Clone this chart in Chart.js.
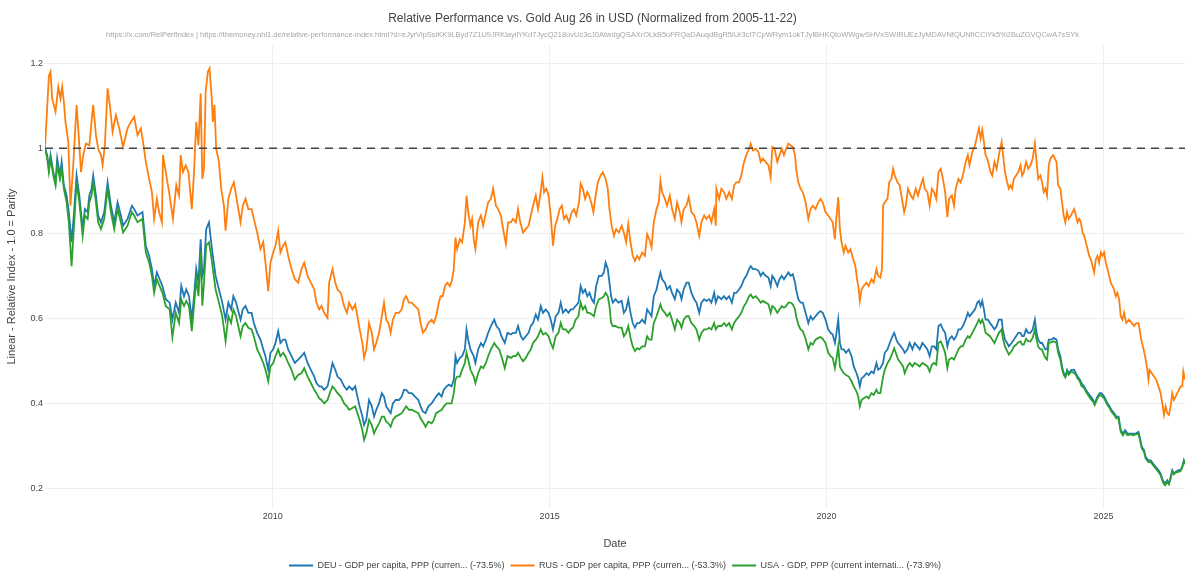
<!DOCTYPE html>
<html>
<head>
<meta charset="utf-8">
<title>Relative Performance vs. Gold</title>
<script src="https://cdn.jsdelivr.net/npm/chart.js@4.4.1/dist/chart.umd.min.js"></script>
<style>
    body { margin: 0; background: #fff; }
    #wrap { width: 1200px; height: 585px; }
</style>
</head>
<body>
<div id="wrap"><canvas id="myChart"></canvas></div>
<script>
// [decimal year, index value]
const deuSeries = [
    [2005.89,1.000],[2005.93,0.984],[2005.96,0.952],[2005.99,0.984],[2006.04,0.944],[2006.08,0.920],[2006.11,0.976],[2006.16,0.936],[2006.19,0.968],[2006.23,0.913],[2006.28,0.889],[2006.32,0.850],[2006.37,0.779],[2006.41,0.842],[2006.46,0.936],[2006.51,0.889],[2006.54,0.850],[2006.57,0.810],[2006.61,0.857],[2006.66,0.850],[2006.69,0.889],[2006.73,0.905],[2006.76,0.936],[2006.81,0.889],[2006.85,0.842],[2006.90,0.826],[2006.96,0.850],[2007.02,0.920],[2007.08,0.865],[2007.14,0.826],[2007.20,0.873],[2007.26,0.842],[2007.30,0.818],[2007.38,0.834],[2007.46,0.865],[2007.50,0.857],[2007.56,0.842],[2007.65,0.850],[2007.71,0.771],[2007.77,0.747],[2007.82,0.716],[2007.86,0.676],[2007.91,0.708],[2007.96,0.692],[2008.01,0.676],[2008.07,0.645],[2008.14,0.637],[2008.19,0.597],[2008.25,0.637],[2008.31,0.613],[2008.35,0.676],[2008.40,0.652],[2008.44,0.668],[2008.49,0.652],[2008.54,0.597],[2008.58,0.652],[2008.62,0.716],[2008.66,0.684],[2008.70,0.786],[2008.73,0.700],[2008.76,0.716],[2008.80,0.810],[2008.85,0.826],[2008.89,0.779],[2008.92,0.747],[2008.97,0.700],[2009.03,0.668],[2009.09,0.637],[2009.15,0.597],[2009.20,0.637],[2009.25,0.621],[2009.29,0.652],[2009.34,0.637],[2009.42,0.597],
    [2009.46,0.621],[2009.51,0.629],[2009.56,0.613],[2009.62,0.613],[2009.66,0.589],[2009.72,0.566],[2009.78,0.550],[2009.83,0.527],[2009.87,0.511],[2009.92,0.479],[2009.96,0.519],[2010.01,0.527],[2010.05,0.542],[2010.10,0.570],[2010.14,0.542],[2010.19,0.550],[2010.23,0.550],[2010.28,0.527],[2010.34,0.511],[2010.40,0.495],[2010.46,0.503],[2010.52,0.511],[2010.57,0.519],[2010.63,0.495],[2010.69,0.479],[2010.75,0.463],[2010.79,0.448],[2010.84,0.440],[2010.88,0.440],[2010.93,0.432],[2010.99,0.440],[2011.03,0.463],[2011.08,0.495],[2011.13,0.479],[2011.17,0.463],[2011.23,0.456],[2011.29,0.440],[2011.34,0.432],[2011.38,0.440],[2011.44,0.432],[2011.49,0.440],[2011.53,0.416],[2011.57,0.393],[2011.62,0.369],[2011.65,0.349],[2011.69,0.361],[2011.74,0.408],[2011.79,0.393],[2011.83,0.369],[2011.87,0.385],[2011.92,0.400],[2011.97,0.424],[2012.01,0.416],[2012.05,0.393],[2012.09,0.385],[2012.13,0.377],[2012.17,0.400],[2012.22,0.408],[2012.28,0.408],[2012.33,0.416],[2012.37,0.432],[2012.41,0.432],[2012.46,0.424],[2012.51,0.424],[2012.57,0.416],[2012.63,0.408],[2012.67,0.393],[2012.71,0.381],[2012.76,0.377],[2012.81,0.393],
    [2012.87,0.400],[2012.91,0.408],[2012.95,0.416],[2013.00,0.424],[2013.05,0.416],[2013.09,0.432],[2013.14,0.440],[2013.18,0.444],[2013.23,0.440],[2013.27,0.456],[2013.30,0.511],[2013.33,0.495],[2013.38,0.507],[2013.42,0.511],[2013.47,0.527],[2013.50,0.574],[2013.53,0.550],[2013.57,0.527],[2013.63,0.511],[2013.66,0.495],[2013.71,0.527],[2013.76,0.542],[2013.80,0.534],[2013.85,0.550],[2013.89,0.566],[2013.94,0.582],[2014.00,0.597],[2014.04,0.582],[2014.09,0.574],[2014.13,0.558],[2014.19,0.542],[2014.24,0.566],[2014.30,0.562],[2014.34,0.566],[2014.39,0.566],[2014.43,0.582],[2014.48,0.558],[2014.52,0.550],[2014.57,0.558],[2014.62,0.566],[2014.66,0.582],[2014.70,0.589],[2014.75,0.609],[2014.79,0.597],[2014.84,0.629],[2014.88,0.613],[2014.93,0.621],[2014.98,0.613],[2015.02,0.597],[2015.06,0.574],[2015.11,0.605],[2015.16,0.613],[2015.20,0.637],[2015.24,0.613],[2015.29,0.621],[2015.34,0.613],[2015.38,0.621],[2015.42,0.621],[2015.47,0.629],[2015.52,0.637],[2015.56,0.676],[2015.60,0.660],[2015.64,0.668],[2015.68,0.652],[2015.72,0.660],[2015.76,0.645],[2015.80,0.637],[2015.84,0.676],[2015.89,0.700],[2015.94,0.700],[2015.98,0.708],[2016.01,0.731],[2016.05,0.716],[2016.08,0.684],[2016.11,0.652],[2016.14,0.637],[2016.19,0.645],[2016.24,0.637],
    [2016.30,0.641],[2016.34,0.613],[2016.38,0.621],[2016.42,0.645],[2016.46,0.613],[2016.50,0.589],[2016.54,0.578],[2016.58,0.589],[2016.62,0.589],[2016.67,0.597],[2016.72,0.589],[2016.76,0.621],[2016.80,0.613],[2016.84,0.605],[2016.88,0.652],[2016.93,0.668],[2016.97,0.692],[2017.00,0.708],[2017.03,0.692],[2017.08,0.684],[2017.12,0.668],[2017.17,0.676],[2017.21,0.660],[2017.26,0.645],[2017.30,0.668],[2017.35,0.660],[2017.38,0.645],[2017.42,0.668],[2017.47,0.684],[2017.51,0.684],[2017.56,0.660],[2017.61,0.645],[2017.65,0.637],[2017.70,0.613],[2017.74,0.637],[2017.79,0.645],[2017.83,0.641],[2017.88,0.645],[2017.92,0.637],[2017.97,0.660],[2018.00,0.637],[2018.04,0.652],[2018.10,0.645],[2018.15,0.652],[2018.19,0.645],[2018.24,0.652],[2018.29,0.637],[2018.33,0.660],[2018.37,0.660],[2018.42,0.668],[2018.46,0.676],[2018.51,0.692],[2018.55,0.700],[2018.60,0.716],[2018.63,0.723],[2018.67,0.716],[2018.72,0.716],[2018.77,0.712],[2018.81,0.700],[2018.85,0.708],[2018.90,0.700],[2018.95,0.696],[2018.99,0.676],[2019.02,0.700],[2019.06,0.692],[2019.11,0.676],[2019.15,0.692],[2019.19,0.700],[2019.23,0.692],[2019.27,0.700],[2019.31,0.708],[2019.35,0.700],[2019.39,0.704],[2019.43,0.684],[2019.45,0.668],[2019.49,0.645],[2019.53,0.637],[2019.57,0.637],[2019.62,0.613],[2019.67,0.589],
    [2019.71,0.605],[2019.75,0.597],[2019.80,0.605],[2019.85,0.613],[2019.89,0.617],[2019.93,0.613],[2019.98,0.597],[2020.03,0.574],[2020.07,0.566],[2020.11,0.562],[2020.15,0.542],[2020.17,0.558],[2020.21,0.597],[2020.24,0.542],[2020.27,0.527],[2020.31,0.527],[2020.35,0.519],[2020.40,0.527],[2020.45,0.511],[2020.49,0.487],[2020.54,0.471],[2020.57,0.459],[2020.60,0.440],[2020.63,0.459],[2020.67,0.463],[2020.72,0.471],[2020.76,0.467],[2020.81,0.475],[2020.85,0.471],[2020.90,0.495],[2020.93,0.479],[2020.97,0.483],[2021.02,0.495],[2021.05,0.519],[2021.10,0.527],[2021.14,0.542],[2021.19,0.558],[2021.22,0.566],[2021.26,0.550],[2021.29,0.542],[2021.34,0.534],[2021.38,0.527],[2021.41,0.519],[2021.46,0.527],[2021.50,0.542],[2021.55,0.527],[2021.59,0.542],[2021.64,0.534],[2021.68,0.527],[2021.73,0.542],[2021.78,0.534],[2021.82,0.527],[2021.86,0.511],[2021.90,0.534],[2021.94,0.534],[2021.98,0.527],[2022.02,0.582],[2022.06,0.586],[2022.10,0.574],[2022.14,0.566],[2022.18,0.534],[2022.21,0.550],[2022.26,0.558],[2022.30,0.550],[2022.34,0.558],[2022.38,0.574],[2022.42,0.574],[2022.46,0.582],[2022.51,0.597],[2022.55,0.613],[2022.58,0.605],[2022.63,0.613],[2022.68,0.621],[2022.72,0.637],[2022.75,0.641],[2022.78,0.629],[2022.81,0.641],[2022.84,0.621],[2022.87,0.597],[2022.91,0.597],[2022.95,0.589],[2022.99,0.582],[2023.03,0.574],[2023.07,0.582],[2023.11,0.597],
    [2023.16,0.597],[2023.18,0.574],[2023.22,0.550],[2023.26,0.542],[2023.29,0.534],[2023.34,0.542],[2023.38,0.550],[2023.42,0.558],[2023.46,0.566],[2023.50,0.566],[2023.53,0.558],[2023.56,0.558],[2023.60,0.574],[2023.64,0.566],[2023.68,0.566],[2023.72,0.574],[2023.76,0.597],[2023.79,0.566],[2023.82,0.550],[2023.86,0.542],[2023.89,0.542],[2023.92,0.534],[2023.95,0.527],[2023.98,0.527],[2024.01,0.550],[2024.06,0.550],[2024.10,0.554],[2024.15,0.550],[2024.18,0.527],[2024.22,0.511],[2024.25,0.487],[2024.28,0.471],[2024.31,0.463],[2024.34,0.479],[2024.37,0.471],[2024.42,0.479],[2024.47,0.479],[2024.50,0.471],[2024.53,0.463],[2024.57,0.456],[2024.60,0.448],[2024.65,0.440],[2024.68,0.432],[2024.72,0.424],[2024.77,0.416],[2024.81,0.408],[2024.84,0.400],[2024.89,0.416],[2024.93,0.424],[2024.96,0.424],[2025.01,0.416],[2025.04,0.408],[2025.07,0.400],[2025.11,0.393],[2025.14,0.385],[2025.19,0.377],[2025.23,0.369],[2025.27,0.369],[2025.31,0.337],[2025.35,0.329],[2025.39,0.337],[2025.43,0.329],[2025.49,0.329],[2025.53,0.329],[2025.58,0.329],[2025.63,0.333],[2025.65,0.322],[2025.69,0.298],[2025.73,0.290],[2025.76,0.274],[2025.81,0.266],[2025.85,0.266],[2025.89,0.259],[2025.94,0.251],[2025.99,0.243],[2026.03,0.235],[2026.07,0.219],[2026.11,0.211],[2026.15,0.219],[2026.18,0.211],[2026.21,0.227],[2026.24,0.243],[2026.27,0.235],[2026.30,0.239],[2026.35,0.243],[2026.39,0.243],[2026.42,0.251],[2026.45,0.266],[2026.47,0.259]
];

const rusSeries = [
    [2005.89,1.000],[2005.96,1.170],[2005.99,1.180],[2006.02,1.117],[2006.08,1.086],[2006.13,1.145],[2006.17,1.117],[2006.20,1.145],[2006.23,1.110],[2006.26,1.062],[2006.31,1.015],[2006.35,0.865],[2006.40,0.960],[2006.46,1.102],[2006.49,1.047],[2006.54,0.944],[2006.58,0.984],[2006.63,1.011],[2006.69,1.007],[2006.73,1.062],[2006.76,1.102],[2006.81,1.031],[2006.85,0.999],[2006.90,0.984],[2006.93,0.960],[2006.97,1.007],[2007.02,1.141],[2007.06,1.102],[2007.11,1.039],[2007.17,1.078],[2007.23,1.047],[2007.30,1.003],[2007.38,1.047],[2007.44,1.062],[2007.50,1.074],[2007.56,1.031],[2007.62,1.047],[2007.66,1.015],[2007.71,0.968],[2007.77,0.928],[2007.82,0.897],[2007.86,0.834],[2007.91,0.881],[2007.95,0.850],[2008.00,0.826],[2008.02,0.984],[2008.07,0.944],[2008.13,0.897],[2008.20,0.834],[2008.26,0.913],[2008.31,0.889],[2008.34,0.984],[2008.38,0.944],[2008.43,0.960],[2008.48,0.944],[2008.54,0.857],[2008.58,0.944],[2008.62,1.062],[2008.66,1.007],[2008.70,1.129],[2008.73,0.928],[2008.76,0.952],[2008.79,1.133],[2008.83,1.180],[2008.86,1.188],[2008.90,1.117],[2008.92,1.062],[2008.95,1.102],[2008.98,0.999],[2009.03,0.968],[2009.07,0.905],[2009.12,0.865],[2009.15,0.806],[2009.20,0.881],[2009.25,0.905],[2009.30,0.920],[2009.36,0.873],[2009.42,0.826],
    [2009.46,0.865],[2009.51,0.881],[2009.56,0.857],[2009.62,0.857],[2009.66,0.834],[2009.72,0.802],[2009.78,0.763],[2009.83,0.779],[2009.87,0.731],[2009.92,0.664],[2009.96,0.731],[2010.01,0.755],[2010.05,0.771],[2010.10,0.806],[2010.14,0.755],[2010.19,0.771],[2010.23,0.779],[2010.28,0.747],[2010.34,0.716],[2010.40,0.692],[2010.46,0.684],[2010.52,0.716],[2010.57,0.731],[2010.63,0.700],[2010.69,0.684],[2010.75,0.668],[2010.79,0.637],[2010.84,0.621],[2010.88,0.629],[2010.93,0.613],[2010.99,0.601],[2011.02,0.684],[2011.08,0.716],[2011.13,0.684],[2011.17,0.668],[2011.23,0.660],[2011.29,0.629],[2011.34,0.613],[2011.38,0.637],[2011.44,0.621],[2011.49,0.633],[2011.53,0.605],[2011.57,0.574],[2011.62,0.542],[2011.65,0.507],[2011.69,0.527],[2011.74,0.589],[2011.79,0.566],[2011.83,0.527],[2011.87,0.542],[2011.92,0.566],[2011.97,0.605],[2012.01,0.637],[2012.05,0.597],[2012.09,0.589],[2012.13,0.566],[2012.17,0.597],[2012.22,0.613],[2012.28,0.613],[2012.33,0.621],[2012.37,0.645],[2012.41,0.652],[2012.46,0.637],[2012.51,0.637],[2012.57,0.629],[2012.63,0.621],[2012.67,0.589],[2012.71,0.566],[2012.76,0.574],[2012.81,0.589],
    [2012.87,0.597],[2012.91,0.589],[2012.95,0.605],[2013.00,0.637],[2013.03,0.652],[2013.07,0.652],[2013.11,0.676],[2013.15,0.684],[2013.20,0.676],[2013.24,0.692],[2013.27,0.716],[2013.30,0.790],[2013.33,0.763],[2013.38,0.786],[2013.42,0.779],[2013.47,0.826],[2013.50,0.889],[2013.53,0.850],[2013.57,0.818],[2013.60,0.834],[2013.63,0.786],[2013.66,0.763],[2013.71,0.826],[2013.76,0.842],[2013.80,0.818],[2013.85,0.850],[2013.89,0.873],[2013.94,0.881],[2013.98,0.905],[2014.03,0.865],[2014.07,0.857],[2014.12,0.842],[2014.16,0.810],[2014.21,0.775],[2014.25,0.826],[2014.30,0.826],[2014.34,0.834],[2014.39,0.826],[2014.43,0.857],[2014.47,0.826],[2014.52,0.802],[2014.57,0.810],[2014.62,0.818],[2014.66,0.842],[2014.70,0.865],[2014.75,0.889],[2014.79,0.857],[2014.83,0.889],[2014.87,0.932],[2014.90,0.897],[2014.94,0.905],[2014.98,0.889],[2015.02,0.842],[2015.06,0.771],[2015.10,0.818],[2015.14,0.834],[2015.18,0.857],[2015.22,0.865],[2015.26,0.834],[2015.30,0.842],[2015.35,0.826],[2015.40,0.850],[2015.44,0.857],[2015.48,0.842],[2015.53,0.873],[2015.56,0.917],[2015.60,0.905],[2015.64,0.881],[2015.68,0.897],[2015.71,0.889],[2015.75,0.873],[2015.79,0.850],[2015.83,0.889],[2015.87,0.920],[2015.92,0.936],[2015.96,0.944],[2016.01,0.928],[2016.05,0.905],[2016.08,0.857],[2016.12,0.818],[2016.16,0.794],[2016.20,0.810],[2016.25,0.802],
    [2016.30,0.818],[2016.34,0.802],[2016.38,0.779],[2016.42,0.822],[2016.46,0.779],[2016.50,0.747],[2016.54,0.735],[2016.58,0.747],[2016.62,0.739],[2016.67,0.755],[2016.72,0.747],[2016.76,0.798],[2016.80,0.786],[2016.84,0.767],[2016.88,0.826],[2016.93,0.857],[2016.97,0.873],[2017.00,0.924],[2017.03,0.897],[2017.08,0.881],[2017.12,0.865],[2017.17,0.889],[2017.21,0.857],[2017.26,0.834],[2017.30,0.873],[2017.35,0.850],[2017.38,0.826],[2017.42,0.857],[2017.47,0.865],[2017.51,0.885],[2017.56,0.850],[2017.61,0.842],[2017.65,0.826],[2017.70,0.794],[2017.74,0.826],[2017.79,0.842],[2017.83,0.834],[2017.88,0.842],[2017.92,0.826],[2017.97,0.857],[2018.00,0.818],[2018.01,0.905],[2018.06,0.881],[2018.10,0.905],[2018.15,0.897],[2018.19,0.881],[2018.24,0.897],[2018.29,0.881],[2018.33,0.913],[2018.37,0.920],[2018.42,0.920],[2018.46,0.936],[2018.51,0.968],[2018.55,0.984],[2018.60,0.999],[2018.63,1.011],[2018.67,0.995],[2018.72,0.999],[2018.77,0.991],[2018.81,0.968],[2018.85,0.976],[2018.90,0.968],[2018.95,0.960],[2018.99,0.932],[2019.02,1.003],[2019.06,0.999],[2019.11,0.968],[2019.15,0.984],[2019.19,0.999],[2019.23,0.984],[2019.27,0.999],[2019.31,1.011],[2019.35,1.007],[2019.39,1.003],[2019.43,0.984],[2019.45,0.952],[2019.49,0.920],[2019.53,0.905],[2019.57,0.897],[2019.62,0.873],[2019.67,0.834],
    [2019.71,0.857],[2019.75,0.865],[2019.80,0.857],[2019.85,0.873],[2019.89,0.881],[2019.93,0.873],[2019.98,0.850],[2020.03,0.842],[2020.07,0.834],[2020.11,0.826],[2020.15,0.786],[2020.17,0.826],[2020.21,0.885],[2020.24,0.810],[2020.27,0.779],[2020.31,0.755],[2020.34,0.771],[2020.39,0.755],[2020.43,0.763],[2020.48,0.739],[2020.52,0.723],[2020.55,0.692],[2020.58,0.668],[2020.60,0.641],[2020.63,0.668],[2020.67,0.676],[2020.72,0.684],[2020.76,0.676],[2020.81,0.692],[2020.85,0.684],[2020.90,0.716],[2020.93,0.700],[2020.97,0.696],[2021.00,0.716],[2021.02,0.865],[2021.05,0.873],[2021.10,0.881],[2021.13,0.920],[2021.17,0.928],[2021.20,0.952],[2021.23,0.936],[2021.28,0.920],[2021.32,0.913],[2021.35,0.889],[2021.40,0.850],[2021.43,0.865],[2021.47,0.905],[2021.52,0.889],[2021.56,0.881],[2021.61,0.905],[2021.65,0.889],[2021.70,0.913],[2021.74,0.928],[2021.77,0.905],[2021.82,0.897],[2021.86,0.865],[2021.90,0.905],[2021.94,0.897],[2021.98,0.881],[2022.02,0.944],[2022.06,0.952],[2022.10,0.928],[2022.14,0.897],[2022.18,0.838],[2022.21,0.881],[2022.26,0.889],[2022.30,0.865],[2022.33,0.905],[2022.38,0.928],[2022.42,0.920],[2022.46,0.936],[2022.51,0.968],[2022.55,0.984],[2022.58,0.960],[2022.63,0.991],[2022.68,1.007],[2022.72,1.031],[2022.75,1.047],[2022.78,1.023],[2022.81,1.043],[2022.84,1.015],[2022.87,0.984],[2022.90,0.976],[2022.93,0.960],[2022.96,0.944],[2022.99,0.936],[2023.03,0.968],[2023.07,0.952],[2023.11,0.984],
    [2023.16,1.015],[2023.18,0.991],[2023.22,0.944],[2023.26,0.920],[2023.29,0.905],[2023.32,0.913],[2023.35,0.905],[2023.38,0.928],[2023.42,0.936],[2023.46,0.944],[2023.50,0.960],[2023.53,0.936],[2023.56,0.944],[2023.60,0.968],[2023.64,0.952],[2023.68,0.960],[2023.72,0.976],[2023.76,1.011],[2023.79,0.968],[2023.82,0.928],[2023.86,0.936],[2023.89,0.920],[2023.92,0.897],[2023.95,0.905],[2023.98,0.889],[2024.01,0.960],[2024.04,0.976],[2024.09,0.984],[2024.12,0.976],[2024.15,0.968],[2024.18,0.913],[2024.22,0.905],[2024.25,0.873],[2024.28,0.842],[2024.31,0.826],[2024.34,0.850],[2024.37,0.834],[2024.41,0.842],[2024.44,0.850],[2024.47,0.857],[2024.50,0.842],[2024.53,0.826],[2024.56,0.834],[2024.59,0.826],[2024.62,0.802],[2024.65,0.794],[2024.68,0.779],[2024.71,0.763],[2024.74,0.747],[2024.77,0.739],[2024.80,0.723],[2024.83,0.708],[2024.86,0.739],[2024.89,0.747],[2024.92,0.731],[2024.95,0.755],[2024.98,0.747],[2025.01,0.755],[2025.04,0.731],[2025.07,0.716],[2025.10,0.700],[2025.13,0.684],[2025.16,0.676],[2025.19,0.668],[2025.22,0.652],[2025.25,0.660],[2025.28,0.645],[2025.31,0.605],[2025.34,0.597],[2025.37,0.613],[2025.41,0.589],[2025.46,0.597],[2025.51,0.589],[2025.55,0.582],[2025.59,0.589],[2025.63,0.589],[2025.65,0.574],[2025.68,0.550],[2025.71,0.534],[2025.75,0.511],[2025.79,0.479],[2025.81,0.456],[2025.83,0.479],[2025.87,0.471],[2025.91,0.463],[2025.95,0.456],[2025.99,0.440],[2026.03,0.424],[2026.06,0.400],[2026.09,0.373],[2026.12,0.393],[2026.15,0.377],[2026.18,0.373],[2026.21,0.393],[2026.24,0.424],[2026.27,0.408],[2026.30,0.416],[2026.33,0.424],[2026.36,0.432],[2026.39,0.440],[2026.42,0.440],[2026.44,0.475],[2026.47,0.456]
];

const usaSeries = [
    [2005.89,1.000],[2005.93,0.976],[2005.96,0.944],[2005.99,0.976],[2006.04,0.936],[2006.08,0.913],[2006.11,0.960],[2006.16,0.928],[2006.19,0.952],[2006.23,0.905],[2006.28,0.873],[2006.32,0.826],[2006.37,0.723],[2006.41,0.810],[2006.46,0.920],[2006.51,0.873],[2006.54,0.834],[2006.57,0.794],[2006.61,0.842],[2006.66,0.834],[2006.69,0.873],[2006.73,0.889],[2006.76,0.920],[2006.81,0.873],[2006.85,0.826],[2006.90,0.810],[2006.96,0.834],[2007.02,0.905],[2007.08,0.850],[2007.14,0.810],[2007.20,0.857],[2007.26,0.826],[2007.30,0.802],[2007.38,0.818],[2007.46,0.850],[2007.50,0.842],[2007.56,0.826],[2007.65,0.834],[2007.71,0.755],[2007.77,0.731],[2007.82,0.700],[2007.86,0.660],[2007.91,0.692],[2007.96,0.676],[2008.01,0.660],[2008.07,0.629],[2008.14,0.621],[2008.19,0.556],[2008.25,0.613],[2008.31,0.589],[2008.35,0.645],[2008.40,0.629],[2008.44,0.641],[2008.49,0.629],[2008.54,0.570],[2008.58,0.629],[2008.62,0.692],[2008.66,0.652],[2008.70,0.755],[2008.73,0.630],[2008.76,0.684],[2008.80,0.771],[2008.85,0.779],[2008.89,0.747],[2008.92,0.716],[2008.97,0.668],[2009.03,0.637],[2009.09,0.605],[2009.15,0.546],[2009.20,0.605],[2009.25,0.589],[2009.29,0.621],[2009.34,0.605],[2009.42,0.558],
    [2009.46,0.582],[2009.51,0.589],[2009.56,0.578],[2009.62,0.574],[2009.66,0.558],[2009.72,0.527],[2009.78,0.511],[2009.83,0.495],[2009.87,0.479],[2009.92,0.452],[2009.96,0.487],[2010.01,0.495],[2010.05,0.511],[2010.10,0.527],[2010.14,0.511],[2010.19,0.519],[2010.23,0.511],[2010.28,0.495],[2010.34,0.479],[2010.40,0.456],[2010.46,0.467],[2010.52,0.471],[2010.57,0.483],[2010.63,0.463],[2010.69,0.448],[2010.75,0.432],[2010.79,0.424],[2010.84,0.412],[2010.88,0.408],[2010.93,0.400],[2010.99,0.408],[2011.03,0.424],[2011.08,0.440],[2011.13,0.432],[2011.17,0.424],[2011.23,0.416],[2011.29,0.400],[2011.34,0.393],[2011.38,0.385],[2011.44,0.389],[2011.49,0.393],[2011.53,0.377],[2011.57,0.361],[2011.62,0.337],[2011.65,0.314],[2011.69,0.329],[2011.74,0.361],[2011.79,0.349],[2011.83,0.329],[2011.87,0.341],[2011.92,0.353],[2011.97,0.369],[2012.01,0.369],[2012.05,0.357],[2012.09,0.353],[2012.13,0.345],[2012.17,0.361],[2012.22,0.369],[2012.28,0.373],[2012.33,0.377],[2012.37,0.385],[2012.41,0.393],[2012.46,0.385],[2012.51,0.385],[2012.57,0.381],[2012.63,0.377],[2012.67,0.365],[2012.71,0.357],[2012.76,0.345],[2012.81,0.357],
    [2012.87,0.353],[2012.91,0.361],[2012.95,0.377],[2013.00,0.381],[2013.05,0.385],[2013.09,0.393],[2013.14,0.400],[2013.18,0.400],[2013.23,0.400],[2013.27,0.424],[2013.30,0.456],[2013.33,0.463],[2013.38,0.463],[2013.42,0.479],[2013.47,0.495],[2013.50,0.519],[2013.53,0.503],[2013.57,0.479],[2013.63,0.463],[2013.66,0.448],[2013.71,0.471],[2013.76,0.487],[2013.80,0.483],[2013.85,0.495],[2013.89,0.511],[2013.94,0.527],[2014.00,0.542],[2014.04,0.534],[2014.09,0.527],[2014.13,0.511],[2014.19,0.483],[2014.24,0.511],[2014.30,0.507],[2014.34,0.511],[2014.39,0.511],[2014.43,0.519],[2014.48,0.507],[2014.52,0.499],[2014.57,0.507],[2014.62,0.519],[2014.66,0.527],[2014.70,0.542],[2014.75,0.550],[2014.79,0.558],[2014.84,0.574],[2014.88,0.562],[2014.93,0.566],[2014.98,0.558],[2015.02,0.542],[2015.06,0.530],[2015.11,0.558],[2015.16,0.566],[2015.20,0.589],[2015.24,0.574],[2015.29,0.574],[2015.34,0.566],[2015.38,0.574],[2015.42,0.578],[2015.47,0.597],[2015.52,0.605],[2015.56,0.637],[2015.60,0.621],[2015.64,0.629],[2015.68,0.613],[2015.72,0.613],[2015.76,0.609],[2015.80,0.605],[2015.84,0.629],[2015.89,0.645],[2015.94,0.648],[2015.98,0.652],[2016.01,0.660],[2016.05,0.652],[2016.08,0.629],[2016.11,0.589],[2016.14,0.582],[2016.19,0.582],[2016.24,0.578],
    [2016.30,0.578],[2016.34,0.558],[2016.38,0.566],[2016.42,0.582],[2016.46,0.554],[2016.50,0.534],[2016.54,0.523],[2016.58,0.530],[2016.62,0.527],[2016.67,0.534],[2016.72,0.534],[2016.76,0.558],[2016.80,0.550],[2016.84,0.550],[2016.88,0.589],[2016.93,0.605],[2016.97,0.621],[2017.00,0.633],[2017.03,0.621],[2017.08,0.613],[2017.12,0.605],[2017.17,0.613],[2017.21,0.597],[2017.26,0.574],[2017.30,0.597],[2017.35,0.589],[2017.38,0.578],[2017.42,0.597],[2017.47,0.605],[2017.51,0.605],[2017.56,0.589],[2017.61,0.582],[2017.65,0.574],[2017.70,0.550],[2017.74,0.566],[2017.79,0.574],[2017.83,0.574],[2017.88,0.578],[2017.92,0.574],[2017.97,0.589],[2018.00,0.574],[2018.04,0.582],[2018.10,0.582],[2018.15,0.589],[2018.19,0.582],[2018.24,0.589],[2018.29,0.574],[2018.33,0.589],[2018.37,0.597],[2018.42,0.605],[2018.46,0.613],[2018.51,0.629],[2018.55,0.637],[2018.60,0.652],[2018.63,0.656],[2018.67,0.648],[2018.72,0.652],[2018.77,0.645],[2018.81,0.637],[2018.85,0.641],[2018.90,0.637],[2018.95,0.633],[2018.99,0.613],[2019.02,0.629],[2019.06,0.625],[2019.11,0.613],[2019.15,0.621],[2019.19,0.629],[2019.23,0.625],[2019.27,0.629],[2019.31,0.637],[2019.35,0.637],[2019.39,0.633],[2019.43,0.621],[2019.45,0.605],[2019.49,0.585],[2019.53,0.574],[2019.57,0.570],[2019.62,0.552],[2019.67,0.527],
    [2019.71,0.542],[2019.75,0.538],[2019.80,0.550],[2019.85,0.554],[2019.89,0.556],[2019.93,0.552],[2019.98,0.542],[2020.03,0.519],[2020.07,0.511],[2020.11,0.507],[2020.15,0.483],[2020.17,0.499],[2020.21,0.534],[2020.24,0.487],[2020.27,0.479],[2020.31,0.471],[2020.35,0.467],[2020.40,0.463],[2020.45,0.452],[2020.49,0.440],[2020.54,0.428],[2020.57,0.416],[2020.60,0.393],[2020.63,0.408],[2020.67,0.412],[2020.72,0.416],[2020.76,0.412],[2020.81,0.424],[2020.85,0.420],[2020.90,0.432],[2020.93,0.424],[2020.97,0.424],[2021.02,0.463],[2021.05,0.479],[2021.10,0.495],[2021.14,0.503],[2021.19,0.519],[2021.22,0.530],[2021.26,0.515],[2021.29,0.503],[2021.34,0.495],[2021.38,0.487],[2021.41,0.471],[2021.46,0.487],[2021.50,0.495],[2021.55,0.487],[2021.59,0.495],[2021.64,0.491],[2021.68,0.487],[2021.73,0.495],[2021.78,0.491],[2021.82,0.487],[2021.86,0.475],[2021.90,0.491],[2021.94,0.495],[2021.98,0.491],[2022.02,0.542],[2022.06,0.546],[2022.10,0.534],[2022.14,0.519],[2022.18,0.483],[2022.21,0.503],[2022.26,0.507],[2022.30,0.503],[2022.34,0.515],[2022.38,0.527],[2022.42,0.534],[2022.46,0.534],[2022.51,0.550],[2022.55,0.558],[2022.58,0.554],[2022.63,0.566],[2022.68,0.578],[2022.72,0.589],[2022.75,0.597],[2022.78,0.589],[2022.81,0.597],[2022.84,0.585],[2022.87,0.566],[2022.91,0.562],[2022.95,0.558],[2022.99,0.550],[2023.03,0.542],[2023.07,0.554],[2023.11,0.566],
    [2023.16,0.574],[2023.18,0.554],[2023.22,0.534],[2023.26,0.523],[2023.29,0.515],[2023.34,0.523],[2023.38,0.534],[2023.42,0.538],[2023.46,0.544],[2023.50,0.546],[2023.53,0.538],[2023.56,0.538],[2023.60,0.552],[2023.64,0.546],[2023.68,0.546],[2023.72,0.554],[2023.76,0.574],[2023.79,0.550],[2023.82,0.534],[2023.86,0.527],[2023.89,0.527],[2023.92,0.515],[2023.95,0.507],[2023.98,0.503],[2024.01,0.542],[2024.06,0.544],[2024.10,0.546],[2024.15,0.542],[2024.18,0.519],[2024.22,0.503],[2024.25,0.481],[2024.28,0.467],[2024.31,0.461],[2024.34,0.475],[2024.37,0.467],[2024.42,0.475],[2024.47,0.471],[2024.50,0.467],[2024.53,0.459],[2024.57,0.452],[2024.60,0.441],[2024.65,0.436],[2024.68,0.428],[2024.72,0.420],[2024.77,0.410],[2024.81,0.404],[2024.84,0.396],[2024.89,0.412],[2024.93,0.420],[2024.96,0.418],[2025.01,0.412],[2025.04,0.404],[2025.07,0.396],[2025.11,0.389],[2025.14,0.381],[2025.19,0.373],[2025.23,0.365],[2025.27,0.365],[2025.31,0.333],[2025.35,0.325],[2025.39,0.333],[2025.43,0.325],[2025.49,0.327],[2025.53,0.325],[2025.58,0.327],[2025.63,0.329],[2025.65,0.318],[2025.69,0.294],[2025.73,0.286],[2025.76,0.270],[2025.81,0.262],[2025.85,0.262],[2025.89,0.255],[2025.94,0.247],[2025.99,0.239],[2026.03,0.231],[2026.07,0.215],[2026.11,0.207],[2026.15,0.215],[2026.18,0.210],[2026.21,0.223],[2026.24,0.239],[2026.27,0.233],[2026.30,0.237],[2026.35,0.239],[2026.39,0.241],[2026.42,0.249],[2026.45,0.264],[2026.47,0.257]
];

const seriesLabels = [
    'DEU - GDP per capita, PPP (curren... (-73.5%)',
    'RUS - GDP per capita, PPP (curren... (-53.3%)',
    'USA - GDP, PPP (current internati... (-73.9%)'
];
const seriesColors = ['#1f77b4', '#ff7f0e', '#2ca02c'];

const xTickYears = [2010, 2015, 2020, 2025];
const yTickValues = [0.2, 0.4, 0.6, 0.8, 1, 1.2];
const yTickLabels = ['0.2', '0.4', '0.6', '0.8', '1', '1.2'];

const X_MIN = 2005.89;
const X_MAX = 2026.47;
const Y_MIN = 0.153;
const Y_MAX = 1.243;
const PARITY = 1;

const titleText = 'Relative Performance vs. Gold Aug 26 in USD (Normalized from 2005-11-22)';
const subtitleText = 'https://x.com/RelPerfIndex | https://themoney.nhi1.de/relative-performance-index.html?d=eJyrVipSslKK9LByd7Z1U9JRKlayilYKd7JycQ218ovUc3cJ0AtwdgQSAXrOLkB5oFRQaDAuqdBgR5iUr3cITCpWRym1okTJylBHKQloWWgwSHVxSWIRUEzJyMDAVNfQUNfICCiYk5%2BuZGVQCwA7sSYk';

const FONT = "'Liberation Sans', Arial, sans-serif";
Chart.defaults.font.family = FONT;
Chart.defaults.color = '#444';

function toPoints(pairs) {
    return pairs.map(function (p) {
        return { x: p[0], y: p[1] };
    });
}

function lineDataset(i, pairs, order) {
    return {
        label: seriesLabels[i],
        data: toPoints(pairs),
        borderColor: seriesColors[i],
        backgroundColor: seriesColors[i],
        borderWidth: 1.8,
        pointRadius: 0,
        pointStyle: 'line',
        tension: 0,
        order: order
    };
}

// legend is centred under the plot area, not under the whole canvas
const legendUnderPlot = {
    id: 'legendUnderPlot',
    afterLayout: function (chart) {
        const area = chart.chartArea;
        const lg = chart.legend;
        const dx = (area.left + area.right) / 2 - (lg.left + lg.right) / 2;
        lg.left += dx;
        lg.right += dx;
    }
};

const ctx = document.getElementById('myChart').getContext('2d');
const myChart = new Chart(ctx, {
    type: 'line',
    data: {
        datasets: [
            lineDataset(0, deuSeries, 3),
            lineDataset(1, rusSeries, 2),
            lineDataset(2, usaSeries, 1),
            {
                label: 'parity',
                data: [{ x: X_MIN, y: PARITY }, { x: X_MAX, y: PARITY }],
                borderColor: '#444',
                borderWidth: 1.4,
                borderDash: [8, 6],
                pointRadius: 0,
                order: 0
            }
        ]
    },
    options: {
        responsive: true,
        maintainAspectRatio: false,
        animation: false,
        layout: {
            padding: { left: 0, right: 15, top: 0, bottom: 5 }
        },
        plugins: {
            title: {
                display: true,
                text: titleText,
                color: '#444',
                font: { size: 12, weight: 'normal' },
                padding: { top: 11, bottom: 2 }
            },
            subtitle: {
                display: true,
                text: subtitleText,
                color: '#a6a6a6',
                font: { size: 7.5, weight: 'normal' },
                padding: { top: 3, bottom: 5.6 }
            },
            legend: {
                position: 'bottom',
                labels: {
                    usePointStyle: true,
                    pointStyle: 'line',
                    pointStyleWidth: 24,
                    color: '#444',
                    font: { size: 9 },
                    padding: 6,
                    filter: function (item) {
                        return item.datasetIndex < 3;
                    },
                    sort: function (a, b) {
                        return a.datasetIndex - b.datasetIndex;
                    }
                }
            },
            tooltip: { enabled: false }
        },
        scales: {
            x: {
                type: 'linear',
                min: X_MIN,
                max: X_MAX,
                afterBuildTicks: function (scale) {
                    scale.ticks = xTickYears.map(function (v) { return { value: v }; });
                },
                afterFit: function (scale) {
                    scale.height = 46.6;
                },
                ticks: {
                    autoSkip: false,
                    maxRotation: 0,
                    padding: 3,
                    color: '#444',
                    font: { size: 9 },
                    callback: function (value) { return String(value); }
                },
                grid: { color: '#eee', drawTicks: false },
                border: { display: false },
                title: {
                    display: true,
                    text: 'Date',
                    color: '#444',
                    font: { size: 11 },
                    padding: { top: 4, bottom: 4 }
                }
            },
            y: {
                type: 'linear',
                min: Y_MIN,
                max: Y_MAX,
                afterBuildTicks: function (scale) {
                    scale.ticks = yTickValues.map(function (v) { return { value: v }; });
                },
                afterFit: function (scale) {
                    scale.width = 45;
                },
                ticks: {
                    padding: 2,
                    color: '#444',
                    font: { size: 9 },
                    callback: function (value, index) { return yTickLabels[index]; }
                },
                grid: { color: '#eee', drawTicks: false },
                border: { display: false },
                title: {
                    display: true,
                    text: 'Linear - Relative Index - 1.0 = Parity',
                    color: '#444',
                    font: { size: 11 },
                    padding: { top: 5, bottom: 0 }
                }
            }
        }
    },
    plugins: [legendUnderPlot]
});
</script>
</body>
</html>
